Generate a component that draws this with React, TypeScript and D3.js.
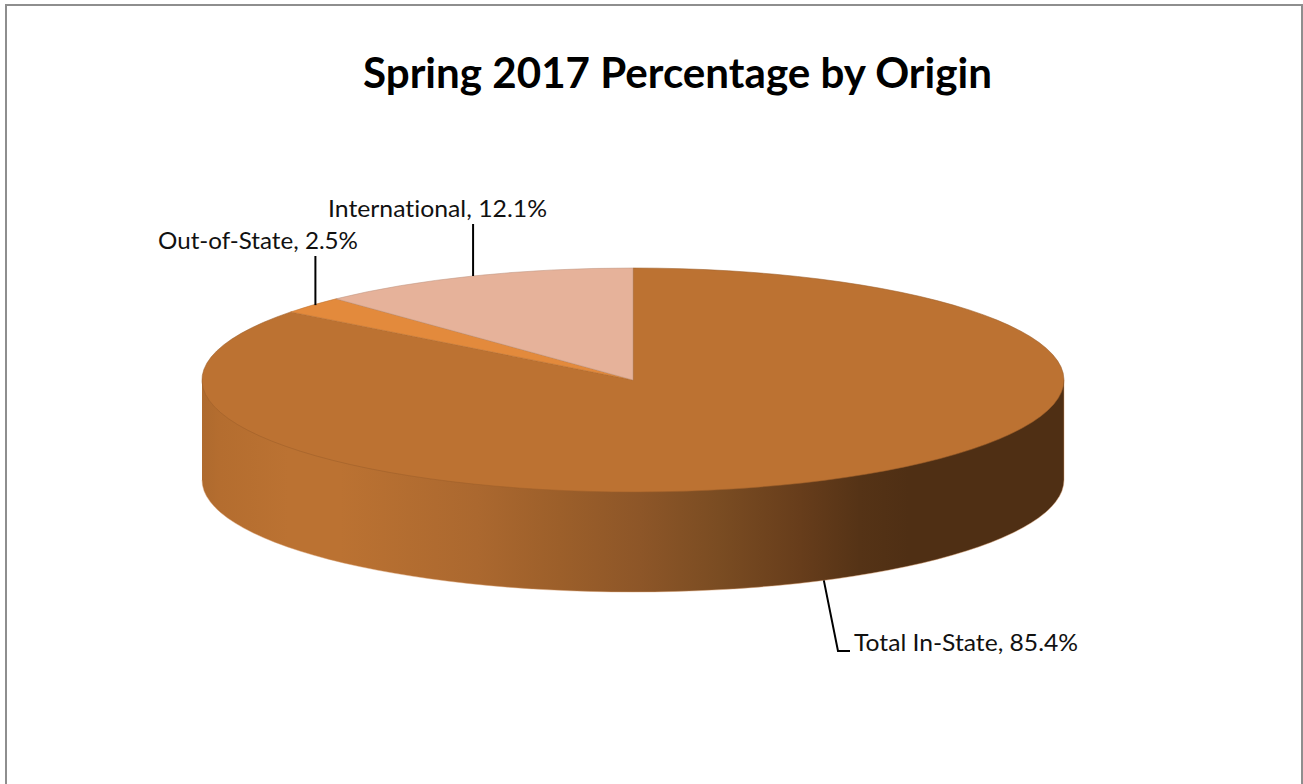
import React from "react";
import * as d3 from "d3";

const categories = ["Total In-State", "Out-of-State", "International"];
const percentages = [85.4, 2.5, 12.1];
const topColors = ["#BC7232", "#E38A3C", "#E6B29A"];
const chartTitle = "Spring 2017 Percentage by Origin";

const W = 1303, H = 784;
const cx = 633, cy = 380, rx = 431, ry = 112, depth = 100;
const FONT = "Lato, Carlito, Calibri, sans-serif";

const pie = d3.pie<number>().sort(null).value((d) => d);
const arcs = pie(percentages);
const unitArc = d3.arc<any>().innerRadius(0).outerRadius(1);
const px = (a: number) => cx + rx * Math.sin(a);
const py = (a: number, dz = 0) => cy - ry * Math.cos(a) + dz;

const wallPath = `M${cx + rx},${cy} L${cx + rx},${cy + depth} A${rx},${ry} 0 0 1 ${cx - rx},${cy + depth} L${cx - rx},${cy} Z`;
const wallEdge = `M${cx + rx},${cy} L${cx + rx},${cy + depth} A${rx},${ry} 0 0 1 ${cx - rx},${cy + depth}`;

const wallStops: [number, string][] = [
  [0, "#AE6A2E"], [0.02, "#B46D2F"], [0.1, "#BB7232"], [0.16, "#BB7232"], [0.32, "#AB682F"],
  [0.415, "#9C5F2A"], [0.508, "#8D5628"], [0.6, "#7A4C22"], [0.694, "#673D1B"], [0.763, "#553316"], [0.82, "#4F2F14"], [1, "#4F2F14"],
];

const mid = (d: d3.PieArcDatum<number>) => (d.startAngle + d.endAngle) / 2;

const labelAnchors = [
  { x: 854, y: 651, w: 224 },
  { x: 158, y: 248.5, w: 200 },
  { x: 328, y: 217, w: 219 },
];

export default function App() {
  const inState = arcs[0], outState = arcs[1], intl = arcs[2];
  const inA = { x: px(mid(inState)), y: py(mid(inState), depth) };
  const outA = { x: px(mid(outState)), y: py(mid(outState)) };
  const intlA = { x: px(mid(intl)), y: py(mid(intl)) };
  const leaders = [
    `M${inA.x},${inA.y} L838,651 L850,651`,
    `M${outA.x + 3},${outA.y} L${outA.x + 3},256`,
    `M${intlA.x},${intlA.y} L${intlA.x},224`,
  ];
  return (
    <svg width={W} height={H} viewBox={`0 0 ${W} ${H}`} style={{ position: "absolute", left: 0, top: 0, background: "#fff" }}>
      <defs>
        <linearGradient id="wall" gradientUnits="userSpaceOnUse" x1={cx - rx} x2={cx + rx} y1="0" y2="0">
          {wallStops.map(([o, c], i) => <stop key={i} offset={o} stopColor={c} />)}
        </linearGradient>
      </defs>
      <rect x={6} y={5} width={1296} height={H + 20} fill="#fff" stroke="#8E8E8E" strokeWidth={2} />
      <text x={363} y={88} textLength={629} lengthAdjust="spacingAndGlyphs" fontFamily={FONT} fontWeight={700} fontSize={42} fill="#000"
        style={{ fontVariantLigatures: "none" }}>{chartTitle}</text>

      <path d={wallPath} fill="url(#wall)" />
      <path d={wallEdge} fill="none" stroke="#D9A070" strokeWidth={1} opacity={0.45} />
      {arcs.map((a, i) => (
        <path key={i} d={unitArc(a) as string} transform={`translate(${cx},${cy}) scale(${rx},${ry})`}
          fill={topColors[i]} stroke={d3.color(topColors[i])!.darker(0.5).formatHex()} strokeOpacity={0.55} strokeWidth={1}
          style={{ vectorEffect: "non-scaling-stroke" }} />
      ))}
      {leaders.map((d, i) => <path key={i} d={d} fill="none" stroke="#000" strokeWidth={2} />)}
      {categories.map((c, i) => (
        <text key={c} x={labelAnchors[i].x} y={labelAnchors[i].y} textLength={labelAnchors[i].w} lengthAdjust="spacingAndGlyphs" fontFamily={FONT} fontSize={23.5} fill="#111"
          style={{ fontVariantLigatures: "none" }}>
          {`${c}, ${percentages[i].toFixed(1)}%`}
        </text>
      ))}
    </svg>
  );
}
